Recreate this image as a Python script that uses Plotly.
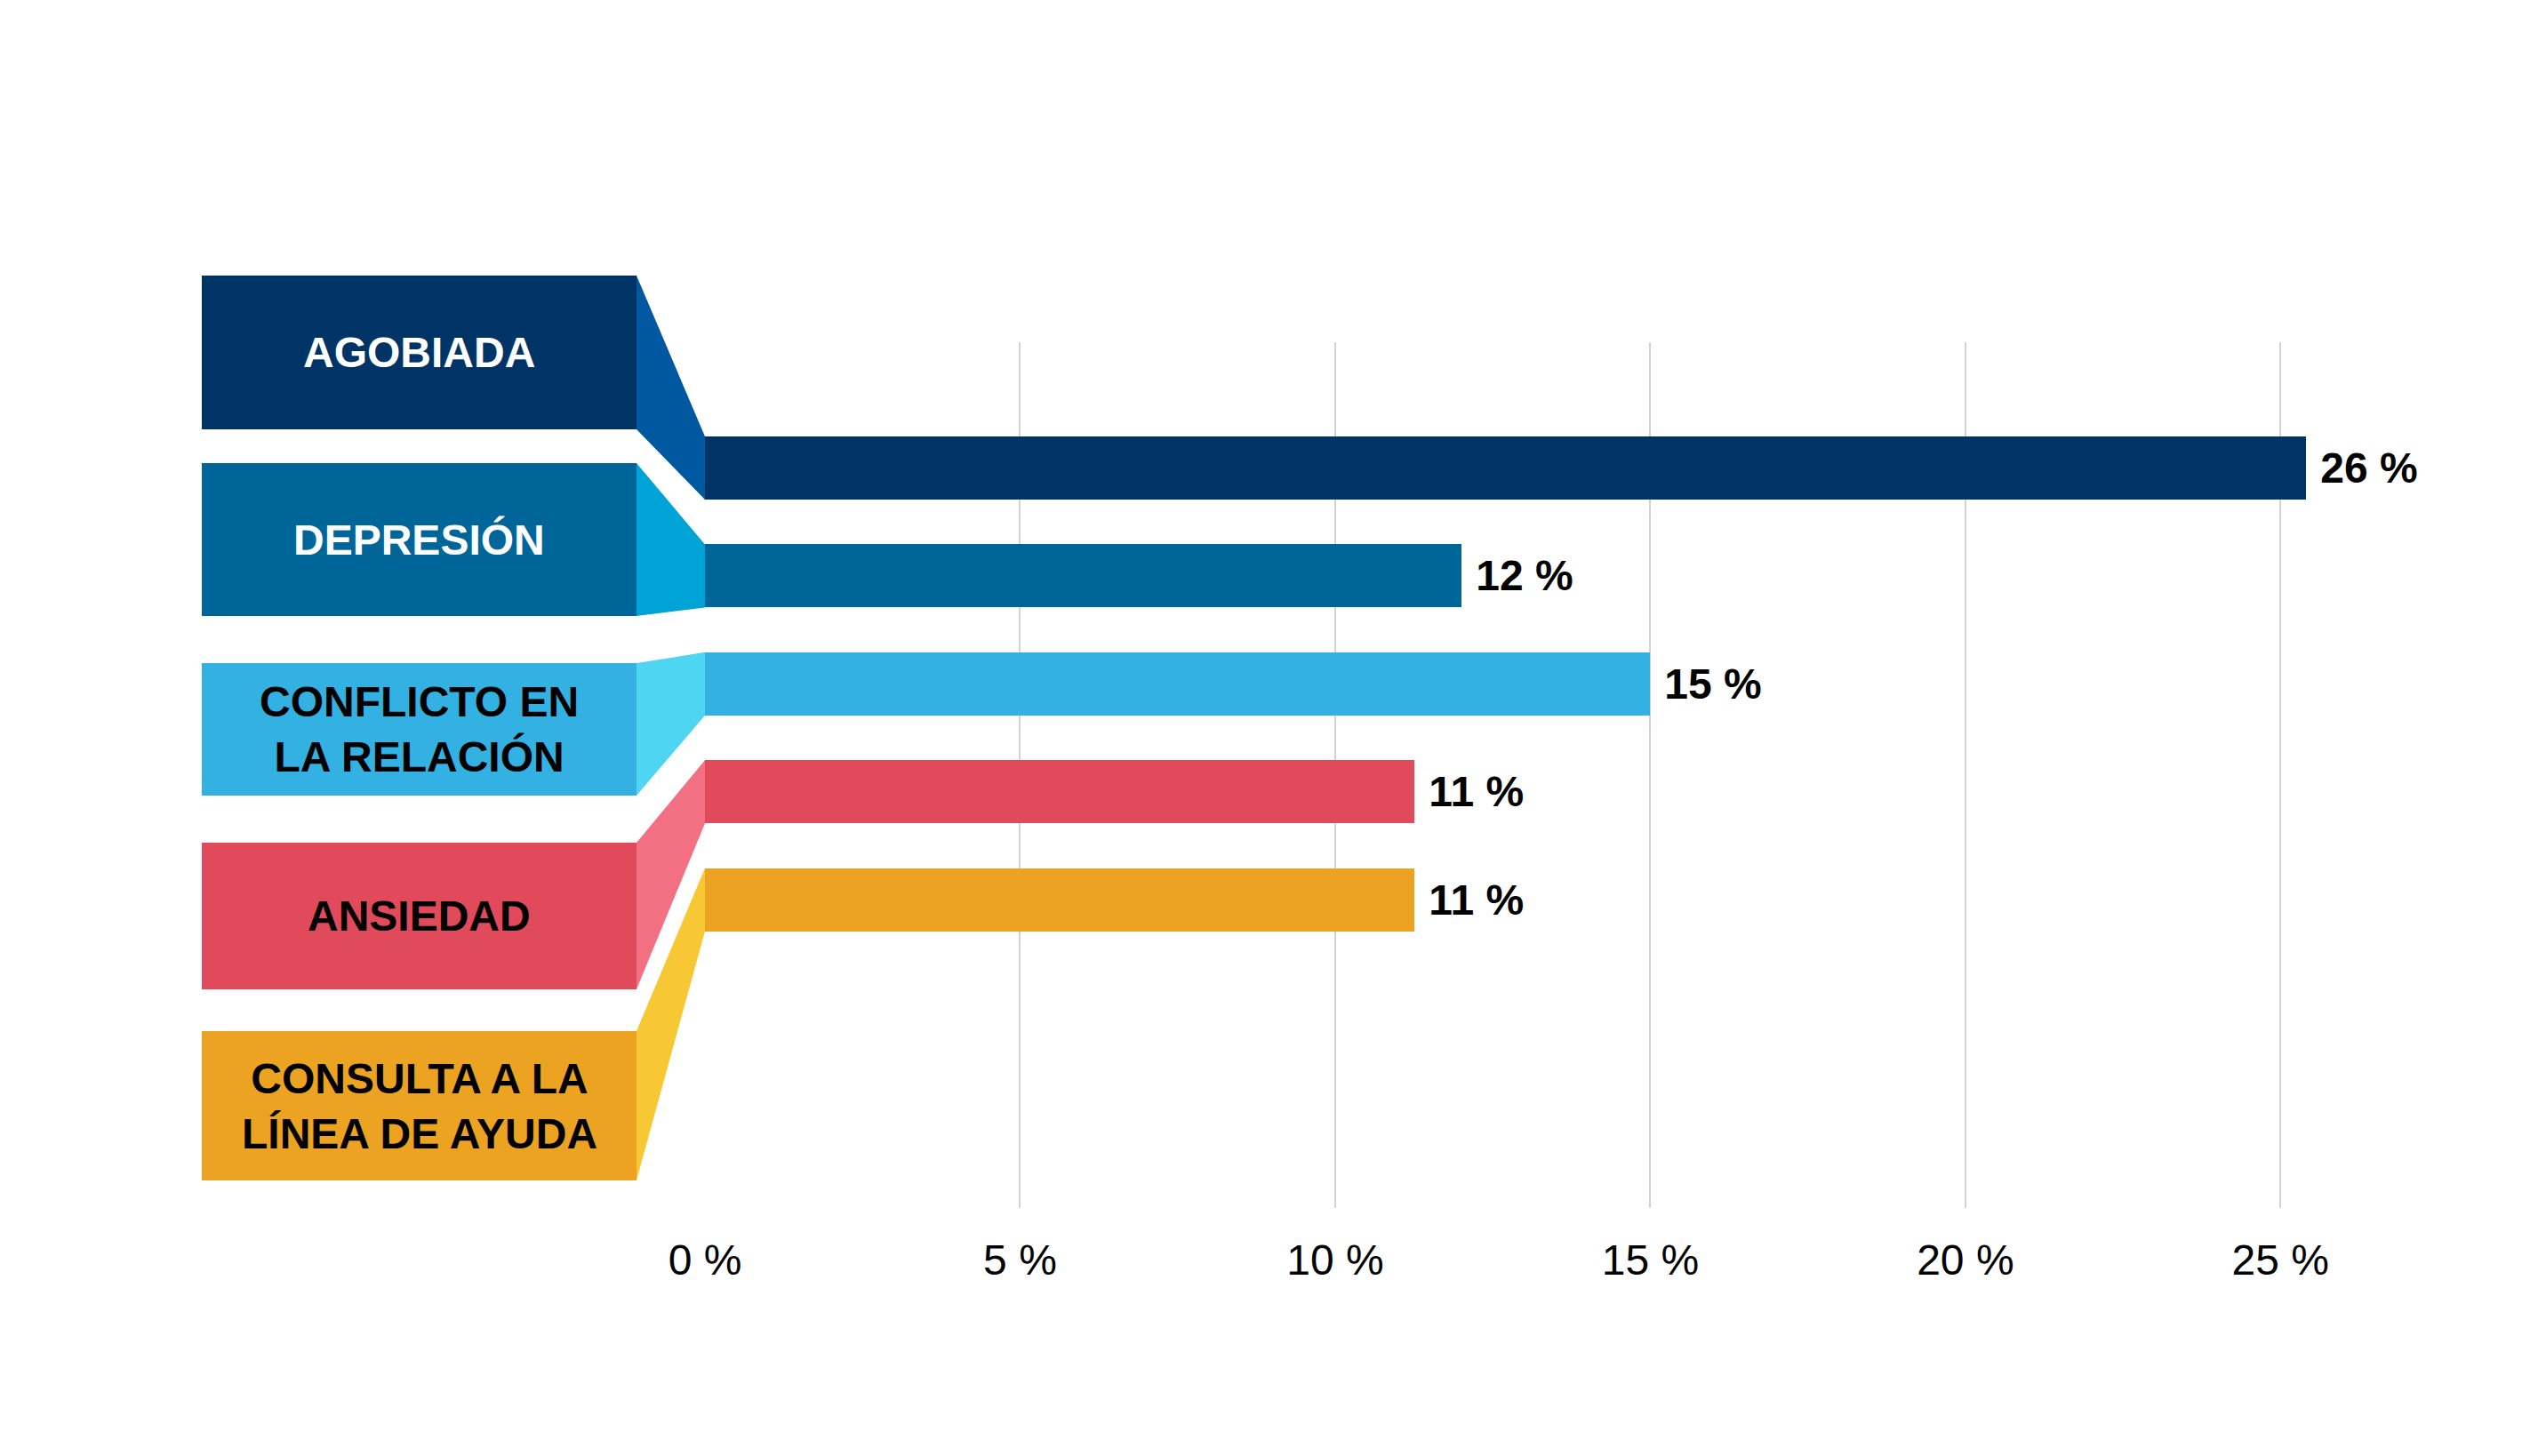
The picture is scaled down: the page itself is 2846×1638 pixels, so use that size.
import plotly.graph_objects as go

# Data
categories = ["AGOBIADA", "DEPRESIÓN", "CONFLICTO EN LA RELACIÓN", "ANSIEDAD",
              "CONSULTA A LA LÍNEA DE AYUDA"]
box_labels = ["AGOBIADA", "DEPRESIÓN", "CONFLICTO EN<br>LA RELACIÓN", "ANSIEDAD",
              "CONSULTA A LA<br>LÍNEA DE AYUDA"]
values = [25.4, 12.0, 15.0, 11.25, 11.25]
value_labels = ["26 %", "12 %", "15 %", "11 %", "11 %"]
tick_vals = [0, 5, 10, 15, 20, 25]
tick_text = ["0 %", "5 %", "10 %", "15 %", "20 %", "25 %"]

# Styling
bar_colors = ["#003466", "#006699", "#33B1E3", "#E14A5B", "#ECA322"]
connector_colors = ["#0059A0", "#00A3D6", "#4DD5F2", "#F27082", "#F7C833"]
box_text_colors = ["white", "white", "black", "black", "black"]
FONT = "Liberation Sans, Arial, Helvetica, sans-serif"

# Layout geometry (pixels, page has an 8px body offset)
W, H = 2846, 1638
M_L, M_R, M_T, M_B = 785, 76, 377, 287
X_RANGE = [0, 28]
Y_RANGE = [6.857, -1.166]
BAR_W = 0.585
BOX_LEFT, BOX_RIGHT = 219, 708
BOX_TOP = [302, 513, 738, 940, 1152]
BOX_BOTTOM = [475, 685, 887, 1105, 1320]

plot_w = W - M_L - M_R
plot_h = H - M_T - M_B


def px_x(px):
    return (px - M_L) / plot_w


def px_y(py):
    return (H - M_B - py) / plot_h


def data_y(v):
    return (Y_RANGE[0] - v) / (Y_RANGE[0] - Y_RANGE[1])


fig = go.Figure()

fig.add_trace(go.Bar(
    x=values,
    y=categories,
    orientation="h",
    width=BAR_W,
    marker=dict(color=bar_colors, line=dict(width=0)),
    text=["\u00a0" + t for t in value_labels],
    textposition="outside",
    textfont=dict(family=FONT, size=48, color="black", weight="bold"),
    constraintext="none",
    cliponaxis=False,
    showlegend=False,
    hoverinfo="skip",
))

shapes = []
annotations = []
xl, xr = px_x(BOX_LEFT), px_x(BOX_RIGHT)
for i, label in enumerate(box_labels):
    yt, yb = px_y(BOX_TOP[i]), px_y(BOX_BOTTOM[i])
    # label box
    shapes.append(dict(type="rect", xref="paper", yref="paper",
                       x0=xl, x1=xr, y0=yb, y1=yt,
                       fillcolor=bar_colors[i], line=dict(width=0)))
    # connector from box to bar
    bt = data_y(i - BAR_W / 2)
    bb = data_y(i + BAR_W / 2)
    path = f"M {xr},{yt} L 0,{bt} L 0,{bb} L {xr},{yb} Z"
    shapes.append(dict(type="path", xref="paper", yref="paper", path=path,
                       fillcolor=connector_colors[i], line=dict(width=0)))
    annotations.append(dict(
        x=(xl + xr) / 2, y=(yt + yb) / 2, xref="paper", yref="paper",
        text=label, showarrow=False, xanchor="center", yanchor="middle",
        align="center",
        font=dict(family=FONT, size=48, color=box_text_colors[i], weight="bold"),
    ))

fig.update_layout(
    width=W, height=H,
    margin=dict(l=M_L, r=M_R, t=M_T, b=M_B),
    paper_bgcolor="white",
    plot_bgcolor="white",
    shapes=shapes,
    annotations=annotations,
    bargap=0,
)

fig.update_xaxes(
    range=X_RANGE,
    tickvals=tick_vals,
    ticktext=tick_text,
    showgrid=True,
    gridcolor="#d3d3d3",
    gridwidth=2,
    zeroline=False,
    showline=False,
    ticks="outside",
    ticklen=16,
    tickcolor="rgba(0,0,0,0)",
    tickfont=dict(family=FONT, size=48, color="black"),
)
fig.update_yaxes(
    range=Y_RANGE,
    showticklabels=False,
    showgrid=False,
    zeroline=False,
    showline=False,
)

fig.write_html("out.html")
